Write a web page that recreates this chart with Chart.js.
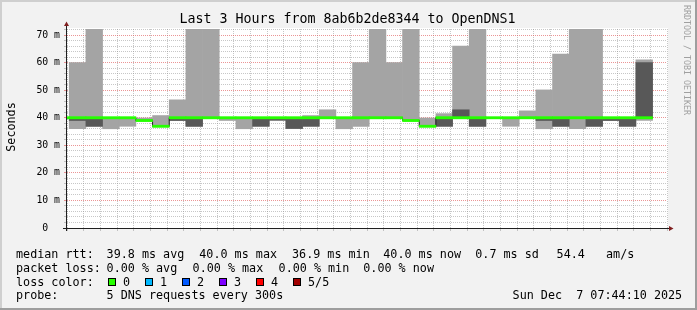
<!DOCTYPE html>
<html>
<head>
<meta charset="utf-8">
<title>Last 3 Hours from 8ab6b2de8344 to OpenDNS1</title>
<script src="https://cdn.jsdelivr.net/npm/chart.js@4.4.1/dist/chart.umd.min.js"></script>
<style>
  html, body { margin: 0; padding: 0; background: #f2f2f2; }
  canvas { display: block; }
</style>
</head>
<body>
<canvas id="smoke" width="697" height="310"></canvas>
<script>
// 5 minute slots (start time); the 5 DNS pings of each slot, sorted, in ms
const slots = ['04:40', '04:45', '04:50', '04:55', '05:00', '05:05', '05:10', '05:15', '05:20',
  '05:25', '05:30', '05:35', '05:40', '05:45', '05:50', '05:55', '06:00', '06:05', '06:10',
  '06:15', '06:20', '06:25', '06:30', '06:35', '06:40', '06:45', '06:50', '06:55', '07:00',
  '07:05', '07:10', '07:15', '07:20', '07:25', '07:30', '07:35'];
const ping1 = [40.0, 36.0, 36.9, 36.0, 36.9, 38.9, 36.8, 39.0, 36.9, 40.0, 39.0, 36.0,
  36.9, 39.1, 36.1, 36.9, 40.0, 36.0, 36.9, 40.0, 40.0, 39.0, 36.8, 36.9,
  40.0, 36.9, 40.0, 36.9, 40.0, 36.0, 36.9, 36.0, 36.9, 39.0, 36.9, 39.0];
const ping2 = [40.0, 39.0, 36.9, 40.0, 40.0, 38.9, 36.9, 39.0, 36.9, 40.0, 40.0, 40.0,
  36.9, 39.1, 36.1, 36.9, 40.0, 40.0, 40.0, 40.0, 40.0, 39.0, 36.9, 36.9,
  40.0, 36.9, 40.0, 40.0, 40.0, 39.0, 36.9, 40.0, 36.9, 39.0, 36.9, 40.0];
const median = [40.0, 40.0, 40.0, 40.0, 40.0, 39.0, 36.9, 40.0, 40.0, 40.0, 40.0, 40.0,
  40.0, 40.0, 40.0, 40.0, 40.0, 40.0, 40.0, 40.0, 40.0, 39.0, 36.9, 40.0,
  40.0, 40.0, 40.0, 40.0, 40.0, 40.0, 40.0, 40.0, 40.0, 40.0, 40.0, 40.0];
const ping4 = [40.0, 40.0, 40.0, 40.0, 40.0, 39.1, 37.0, 40.0, 40.0, 40.0, 40.0, 40.0,
  40.0, 40.0, 40.0, 40.0, 40.0, 40.0, 40.0, 40.0, 40.0, 39.1, 37.0, 40.0,
  42.9, 40.0, 40.0, 40.0, 40.0, 40.0, 40.0, 40.0, 40.0, 40.0, 40.0, 60.0];
const ping5 = [40.0, 60.0, 80.0, 40.0, 40.0, 39.9, 40.8, 46.5, 80.0, 80.0, 40.0, 40.0,
  40.0, 40.0, 40.0, 40.8, 42.9, 40.0, 60.0, 80.0, 60.0, 80.0, 39.9, 41.5,
  66.0, 80.0, 40.0, 40.0, 42.5, 50.1, 63.1, 80.0, 80.0, 40.0, 40.0, 61.0];

const timeTicks = ['05:00', '05:20', '05:40', '06:00', '06:20', '06:40', '07:00', '07:20', '07:40'];
const yTickLabels = ['0  ', '10 m', '20 m', '30 m', '40 m', '50 m', '60 m', '70 m'];
const lossLabels = ['0', '1', '2', '3', '4', '5/5'];
const lossColors = ['#26ff00', '#00b8ff', '#0059ff', '#7e00ff', '#ff0000', '#a10000'];

const viewStart = '04:44:20';
const viewEnd = '07:44:20';
const slotLen = 5;     // minutes
const yMax = 72.2;

const MONO = '"DejaVu Sans Mono", monospace';
const GRID = 'rgba(143,143,143,0.5)';
const MGRID = 'rgba(222,79,79,0.6)';
const bandHalf = 0.4;  // half thickness of the median band, ms

function toMin(s) {
    const [h, m, sec] = s.split(':').map(Number);
    return h * 60 + m + (sec || 0) / 60;
}
function fmt(v) {
    const t = Math.round(v);
    return String(Math.floor(t / 60)).padStart(2, '0') + ':' + String(t % 60).padStart(2, '0');
}

const mid = slots.map(t => toMin(t) + slotLen / 2);
const medianLine = slots.map((t, i) => ({ x: toMin(t), y: median[i] }));
medianLine.push({ x: toMin(slots[slots.length - 1]) + slotLen, y: median[median.length - 1] });

const barCommon = {
    type: 'bar', barPercentage: 1, categoryPercentage: 1, grouped: false,
    borderWidth: 0, borderSkipped: false, clip: 0
};

const legendRows = [
    [['median rtt:', 16.7], ['39.8 ms avg', 107.3], ['40.0 ms max', 200], ['36.9 ms min', 292.7],
     ['40.0 ms now', 384], ['0.7 ms sd', 476], ['54.4', 557.3], ['am/s', 606.7]],
    [['packet loss:', 16.7], ['0.00 % avg', 107.3], ['0.00 % max', 193.3], ['0.00 % min', 279.3],
     ['0.00 % now', 364]],
    [['loss color:', 16.7]],
    [['probe:', 16.7], ['5 DNS requests every 300s', 107.3], ['Sun Dec  7 07:44:10 2025', 513.3]]
];
const rowBase = [258, 271.8, 285.6, 299.4];

const rrdFrame = {
    id: 'rrdFrame',
    beforeDraw(chart) {
        const { ctx, chartArea: a, width, height } = chart;
        ctx.save();
        ctx.fillStyle = '#f2f2f2';
        ctx.fillRect(0, 0, width, height);
        ctx.fillStyle = '#cfcfcf';
        ctx.fillRect(0, 0, width, 2);
        ctx.fillRect(0, 0, 2, height);
        ctx.fillStyle = '#9e9e9e';
        ctx.fillRect(0, height - 2, width, 2);
        ctx.fillRect(width - 2, 0, 2, height);
        ctx.fillStyle = '#ffffff';
        ctx.fillRect(a.left, a.top - 1, a.right - a.left + 1, a.bottom - a.top + 1);
        ctx.restore();
    },
    afterDraw(chart) {
        const { ctx, chartArea: a } = chart;
        ctx.save();
        // axes
        ctx.strokeStyle = '#1f1f1f';
        ctx.lineWidth = 1;
        ctx.beginPath();
        ctx.moveTo(a.left - 4, a.bottom + 0.5);
        ctx.lineTo(a.right + 2, a.bottom + 0.5);
        ctx.moveTo(a.left - 0.5, a.bottom + 3);
        ctx.lineTo(a.left - 0.5, a.top - 3);
        ctx.stroke();
        ctx.fillStyle = '#801f1f';
        ctx.beginPath();
        ctx.moveTo(a.left - 0.5, a.top - 7.5);
        ctx.lineTo(a.left - 3, a.top - 3);
        ctx.lineTo(a.left + 2, a.top - 3);
        ctx.closePath();
        ctx.fill();
        ctx.beginPath();
        ctx.moveTo(a.right + 6.5, a.bottom + 0.5);
        ctx.lineTo(a.right + 2, a.bottom - 2);
        ctx.lineTo(a.right + 2, a.bottom + 3);
        ctx.closePath();
        ctx.fill();

        // title
        ctx.fillStyle = '#000';
        ctx.font = '13.3px ' + MONO;
        ctx.textAlign = 'center';
        ctx.textBaseline = 'alphabetic';
        ctx.fillText('Last 3 Hours from 8ab6b2de8344 to OpenDNS1', 347.5, 23);

        // unit label
        ctx.font = '11.74px ' + MONO;
        ctx.save();
        ctx.translate(15, 127);
        ctx.rotate(-Math.PI / 2);
        ctx.fillText('Seconds', 0, 0);
        ctx.restore();

        // watermark
        ctx.save();
        ctx.fillStyle = '#a0a0a0';
        ctx.font = '8.3px ' + MONO;
        ctx.textAlign = 'left';
        ctx.translate(684, 5);
        ctx.rotate(Math.PI / 2);
        ctx.fillText('RRDTOOL / TOBI OETIKER', 0, 0);
        ctx.restore();

        // legend
        ctx.textAlign = 'left';
        ctx.font = '11.74px ' + MONO;
        legendRows.forEach((row, r) => {
            row.forEach(([text, x]) => ctx.fillText(text, x - 0.7, rowBase[r]));
        });
        lossLabels.forEach((lab, k) => {
            const bx = Math.round(108.3 + 37 * k);
            ctx.fillStyle = lossColors[k];
            ctx.fillRect(bx + 0.5, 278.5, 7, 7);
            ctx.strokeStyle = '#000';
            ctx.strokeRect(bx + 0.5, 278.5, 7, 7);
            ctx.fillStyle = '#000';
            ctx.fillText(lab, bx + 15.7 - 0.7, rowBase[2]);
        });
        ctx.restore();
    }
};

new Chart(document.getElementById('smoke'), {
    type: 'bar',
    data: {
        datasets: [
            { ...barCommon, order: 4, backgroundColor: '#a4a4a4',
              data: mid.map((x, i) => ({ x, y: [ping1[i], ping5[i]] })) },
            { ...barCommon, order: 3, backgroundColor: '#585858',
              data: mid.map((x, i) => ({ x, y: [ping2[i], ping4[i]] })) },
            { type: 'line', order: 2, data: medianLine, stepped: 'before', borderColor: '#202020',
              borderWidth: 1, pointRadius: 0, fill: false, clip: 0 },
            { ...barCommon, order: 1, backgroundColor: lossColors[0],
              data: mid.map((x, i) => ({ x, y: [median[i] - bandHalf, median[i] + bandHalf] })) }
        ]
    },
    options: {
        responsive: false,
        devicePixelRatio: 1,
        animation: false,
        events: [],
        layout: { padding: { left: 0, right: 30, top: 29, bottom: 62 } },
        plugins: { legend: { display: false }, tooltip: { enabled: false }, title: { display: false } },
        scales: {
            x: {
                type: 'linear', min: toMin(viewStart), max: toMin(viewEnd), offset: false, z: 1,
                afterFit: s => { s.height = 20; },
                ticks: {
                    stepSize: slotLen, includeBounds: false, autoSkip: false, maxRotation: 0, minRotation: 0,
                    padding: 1, color: '#000', font: { family: MONO, size: 9.6 },
                    callback: v => { const l = fmt(v); return timeTicks.includes(l) ? l : ''; }
                },
                grid: {
                    offset: false, lineWidth: 1, tickLength: 3,
                    color: c => (c.tick && timeTicks.includes(fmt(c.tick.value))) ? MGRID : GRID
                },
                border: { display: false, dash: [1, 1] }
            },
            y: {
                min: 0, max: yMax, z: 1,
                afterFit: s => { s.width = 67; },
                ticks: {
                    stepSize: 2, includeBounds: false, autoSkip: false, padding: 4,
                    color: '#000', font: { family: MONO, size: 9.8 },
                    callback: v => { const r = Math.round(v); return r % 10 === 0 ? yTickLabels[r / 10] : ''; }
                },
                grid: {
                    lineWidth: 1, tickLength: 3,
                    color: c => {
                        if (!c.tick) return GRID;
                        const r = Math.round(c.tick.value);
                        if (r === 0) return 'rgba(0,0,0,0)';
                        return r % 10 === 0 ? MGRID : GRID;
                    }
                },
                border: { display: false, dash: [1, 1] }
            }
        }
    },
    plugins: [rrdFrame]
});
</script>
</body>
</html>
